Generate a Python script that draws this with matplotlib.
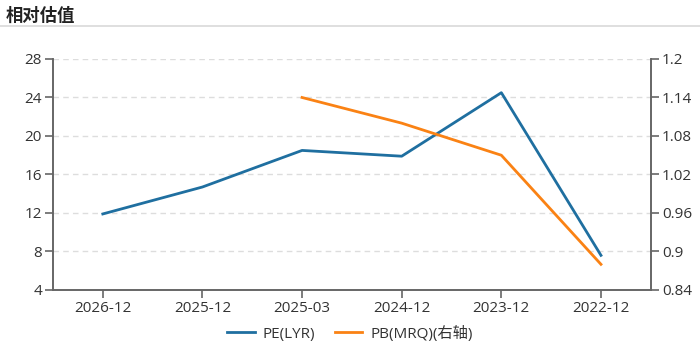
import matplotlib.pyplot as plt
from matplotlib.lines import Line2D

plt.rcParams['font.family'] = ['Open Sans', 'Noto Sans CJK SC', 'DejaVu Sans']

periods = ["2026-12", "2025-12", "2025-03", "2024-12", "2023-12", "2022-12"]
pe_lyr = [11.9, 14.7, 18.5, 17.9, 24.5, 7.6]
pb_mrq = [None, None, 1.14, 1.10, 1.05, 0.88]

pe_ticks = [4, 8, 12, 16, 20, 24, 28]
pb_ticks = [0.84, 0.9, 0.96, 1.02, 1.08, 1.14, 1.2]
pb_labels = ["0.84", "0.9", "0.96", "1.02", "1.08", "1.14", "1.2"]

blue = "#1f6fa0"
orange = "#fa8214"
axis_color = "#666666"

fig = plt.figure(figsize=(7, 3.53), dpi=100)
fig.text(0.008, 0.955, "相对估值", fontsize=12.5, fontweight="bold", color="#222222",
         va="center", family=["Noto Sans CJK SC"])
fig.add_artist(Line2D([0, 1], [0.925, 0.925], color="#d9d9d9", lw=1.2))

ax = fig.add_axes([0.0757, 0.1785, 0.854, 0.6544])
x = list(range(len(periods)))
ax.plot(x, pe_lyr, color=blue, lw=2, label="PE(LYR)")
ax.set_xlim(-0.5, len(periods) - 0.5)
ax.set_ylim(4, 28)
ax.set_yticks(pe_ticks)
ax.set_xticks(x)
ax.set_xticklabels(periods)
ax.grid(axis="y", color="#dddddd", linestyle=(0, (4, 3)), lw=1)
ax.set_axisbelow(True)

ax2 = ax.twinx()
px = [i for i, v in zip(x, pb_mrq) if v is not None]
pv = [v for v in pb_mrq if v is not None]
ax2.plot(px, pv, color=orange, lw=2, label="PB(MRQ)(右轴)")
ax2.set_ylim(0.84, 1.2)
ax2.set_yticks(pb_ticks)
ax2.set_yticklabels(pb_labels)

for a in (ax, ax2):
    a.spines["top"].set_visible(False)
    for s in ("left", "right", "bottom"):
        a.spines[s].set_color(axis_color)
        a.spines[s].set_linewidth(1.2)
    a.tick_params(colors=axis_color, labelcolor="#333333", labelsize=11, length=6, width=1.2,
                  pad=2)

h1, l1 = ax.get_legend_handles_labels()
h2, l2 = ax2.get_legend_handles_labels()
fig.legend(h1 + h2, l1 + l2, loc="center", bbox_to_anchor=(0.5, 0.055), ncol=2,
           frameon=False, fontsize=11, handlelength=1.8, handletextpad=0.5,
           columnspacing=1.3, labelcolor="#333333")

fig.savefig("out.png", dpi=100)
